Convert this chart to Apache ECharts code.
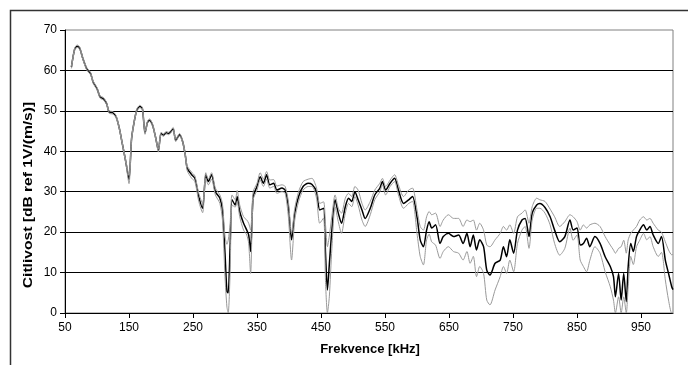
<!DOCTYPE html>
<html>
<head>
<meta charset="utf-8">
<script src="https://cdn.jsdelivr.net/npm/echarts@6/dist/echarts.min.js"></script>
<style>html,body{margin:0;padding:0;background:#fff;}#c{width:688px;height:365px;}</style>
</head>
<body>
<div id="c"></div>
<script>
var freq = [60,65,69,73,78,84,90,94,100,105,110,115,119,125,130,135,140,145,150,154,158,162,167,171,175,179,182,187,192,196,200,204,208,212,215,219,223,229,234,238,
241,248,253,259,265,270,274,279,285,292,296,300,303,305,308,311,316,319,323,329,334,337,340,344,350,355,360,365,370,376,381,389,394,399,404,409,415,422,430,436,
443,448,454,457,460,463,467,472,477,482,488,493,498,503,508,514,519,527,534,542,546,551,558,565,571,579,587,593,600,605,610,615,619,623,629,636,641,649,657,665,
672,678,683,688,693,698,704,709,714,722,730,735,740,745,751,757,764,769,775,780,787,792,800,808,815,823,831,839,844,850,855,860,865,870,878,886,894,902,907,910,
915,919,923,927,930,934,938,943,948,954,959,964,969,977,982,988,993,998,1000];
var meanVals = [60.8,65.2,66,65.5,62.9,60.4,59.2,57.1,55.5,53.4,53,51.8,49.7,49.5,48.5,45.6,41.5,37.4,33.0,43.1,47.2,50.1,51.1,50.5,44.6,47.2,47.7,46.4,43.1,40.2,44.4,44,44.6,44.4,44.8,45.6,42.7,44.1,42.3,39,
35.8,34.2,33.3,28.8,25.9,34.2,32.5,34.2,30,28.4,25.5,14.8,5.3,5,16.5,28,26.7,28.8,25.1,22.2,20.5,19.3,15.2,28.8,31.3,33.7,32.1,34.2,31.7,32.1,30.4,30.9,30.4,26.3,18.1,24.7,28.8,31.3,32.1,31.8,
30,25.5,25.9,15,5.7,12,20.5,28,24.7,22.2,26.3,28.4,27.6,30,28,25.5,23.4,25.9,29.2,30.9,32.5,30.4,32.1,33.3,30.4,27.1,28,28.8,23.8,18.1,16.4,20.5,22.6,21,21.8,17.2,18.9,19.7,18.9,19.3,
17.2,19.7,16.4,19.3,15.6,18.1,16.4,10.6,9.4,12.3,13.1,16.4,13.9,18.1,14.8,20.5,23,23.4,18.9,24.7,26.7,27.1,26.1,23.8,20.5,17.6,18.9,23,20.5,21,16.8,17.2,18.5,16.4,18.9,17.2,13.9,11.5,9,4,
9.8,3.2,9.8,2.8,11.5,17.2,15.2,18.9,20.5,21.8,20.5,21.4,19.3,17.2,18.9,13.1,9.8,6.5,5.8];
var upperVals = [61.1,65.5,66.3,65.8,63.2,60.7,59.5,57.4,55.8,53.7,53.3,52.1,50,49.8,48.8,45.9,41.8,37.8,34,43.5,47.5,50.4,51.4,50.8,45,47.5,48,46.7,43.4,40.6,44.7,44.3,44.9,44.7,45.1,45.9,43,44.4,42.6,39.4,
36.4,34.8,33.9,29.6,27.1,34.7,33.1,34.7,30.9,29.2,27,19,17,18,22,29.2,28,30.3,26.7,23.8,23,22.2,20.5,30,32.1,34.7,33.1,35,32.9,33,31.4,31.7,31.3,27.6,19.7,25.9,30,32.5,33.1,33.3,
30.9,27.1,27.5,22,16.4,19,24,29.2,25.9,24.7,28.4,29.6,28.8,31.3,30.4,27.1,25.5,27.6,30.4,32.1,33.3,31.3,32.9,34.2,31.7,28.8,30.4,30.9,25.5,21.4,20.5,23.8,25.1,24.3,24.7,21.4,23,24.3,23.4,23.4,
21.4,23,22.6,23,20.5,22.2,20.5,16.8,16.4,18.1,19.7,21.4,20.5,21.8,19.7,23.8,24.7,25.5,22.2,26.3,28.4,28,27.6,25.7,23.8,21.4,22.6,24.3,23.8,22.6,20.5,21.8,21,21.8,22.2,21.4,18.9,16.8,15.6,14.8,
16,16.4,18,14.8,18.1,19.7,20.5,21.4,23,23.8,23,23.4,22.2,20.5,20,17.6,15.6,14.4,14.5];
var lowerVals = [60.5,64.9,65.7,65.2,62.6,60.1,58.9,56.8,55.2,53.1,52.7,51.5,49.4,49.2,48.2,45.3,41.2,37,32,42.7,46.9,49.8,50.8,50.2,44.2,46.9,47.4,46.1,42.8,39.8,44.1,43.7,44.3,44.1,44.5,45.3,42.4,43.8,42,38.6,
35.2,33.3,32.5,27.6,24.8,33.3,31.7,33.1,29.2,27.1,23,9,1.5,0,10,26.7,26.2,27.6,23.8,20.5,19.3,17.2,9.8,28,30.4,32.9,31.3,33.1,30.9,31.3,29.6,30,29.6,23.8,13.1,23,27.6,30.4,31.3,31.3,
28.4,22.2,23.5,8,0,4,16,26.3,22.6,19.7,24.7,27.1,26.3,28.8,26.7,23,21.4,24.3,28,30,31.7,29.2,31.3,32.5,29.2,25.9,27.1,27.6,19.7,14,11.9,18.1,19.5,17.6,16.8,13.5,15.2,16.4,15.2,14.8,
13.1,15.2,12.3,14,9,11.5,9.8,3.2,2,5.7,9,11.5,9.8,13.1,10.2,17.2,20.5,21.4,16,23,25.9,25.9,24.7,21.8,17.2,14.3,16,21,18,19.3,13.1,11.5,10.2,13,16.4,14.8,10.2,6.5,3.2,0,
4,0,4,0,6.5,14,12,16.4,18,19.7,18.1,18.9,16.4,14,15,8.2,3.2,0,0];
var xTickLabels = [50,150,250,350,450,550,650,750,850,950];

function pairs(vals){ return freq.map(function(f,i){ return [f, vals[i]]; }); }

var chart = echarts.init(document.getElementById('c'), null, {renderer:'canvas'});
var font = "'Liberation Sans', Arial, sans-serif";
chart.setOption({
  animation: false,
  backgroundColor: '#fff',
  grid: {left: 65, right: 15, top: 30, bottom: 52, show: true, borderColor: '#808080', borderWidth: 1, backgroundColor: 'transparent'},
  xAxis: {
    type: 'value', min: 50, max: 1000,
    axisLine: {show: true, lineStyle: {color: '#000', width: 1}},
    axisTick: {show: true, customValues: xTickLabels, length: 5, lineStyle: {color: '#000'}},
    axisLabel: {customValues: xTickLabels, color: '#000', fontSize: 12, fontFamily: font, margin: 9},
    splitLine: {show: false}
  },
  yAxis: {
    type: 'value', min: 0, max: 70, interval: 10,
    axisLine: {show: true, lineStyle: {color: '#000', width: 1}},
    axisTick: {show: true, length: 5, lineStyle: {color: '#000'}},
    axisLabel: {color: '#000', fontSize: 12, fontFamily: font, margin: 8},
    splitLine: {show: true, showMaxLine: false, lineStyle: {color: '#000', width: 1}}
  },
  series: [
    {type: 'line', name: 'mean', data: pairs(meanVals), showSymbol: false, smooth: 0.25, z: 2,
     lineStyle: {color: '#000', width: 1.5}},
    {type: 'line', name: 'upper', data: pairs(upperVals), showSymbol: false, smooth: 0.25, z: 3,
     lineStyle: {color: '#999', width: 1}},
    {type: 'line', name: 'lower', data: pairs(lowerVals), showSymbol: false, smooth: 0.25, z: 3,
     lineStyle: {color: '#999', width: 1}}
  ],
  graphic: [
    {type: 'rect', shape: {x: 10.5, y: 10.5, width: 700, height: 400}, style: {fill: 'none', stroke: '#333', lineWidth: 1.5}, silent: true},
    {type: 'text', x: 28, y: 195, rotation: Math.PI/2, scaleX: 1.2,
     style: {text: 'Citlivost [dB ref 1V/(m/s)]', font: 'bold 13px ' + font, fill: '#000', align: 'center', verticalAlign: 'middle'}},
    {type: 'text', x: 370, y: 349,
     style: {text: 'Frekvence [kHz]', font: 'bold 13px ' + font, fill: '#000', align: 'center', verticalAlign: 'middle'}}
  ]
});
</script>
</body>
</html>
